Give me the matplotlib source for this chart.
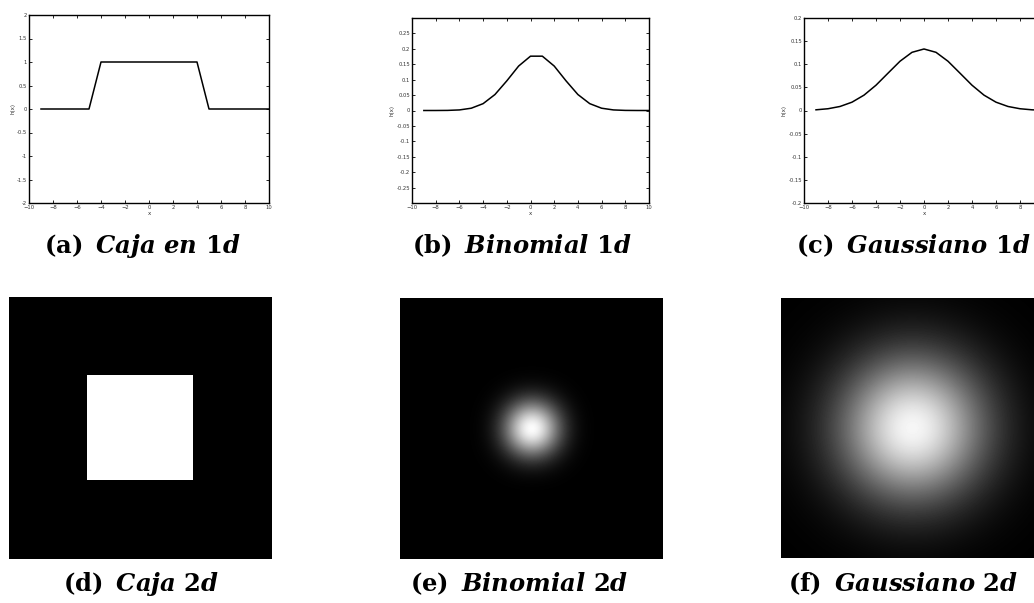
import matplotlib
matplotlib.use('Agg')
import matplotlib.pyplot as plt
import numpy as np

# sample positions of the 1d kernels
x_vals = [-9, -8, -7, -6, -5, -4, -3, -2, -1, 0, 1, 2, 3, 4, 5, 6, 7, 8, 9, 10]

# (a) box kernel
box_1d = [0, 0, 0, 0, 0, 1, 1, 1, 1, 1, 1, 1, 1, 1, 0, 0, 0, 0, 0, 0]

# (b) binomial kernel
binom_1d = [0.000002, 0.000036, 0.00033, 0.00185, 0.0074, 0.0222, 0.0518, 0.0961, 0.1442, 0.1762,
            0.1762, 0.1442, 0.0961, 0.0518, 0.0222, 0.0074, 0.00185, 0.00033, 0.000036, 0.000002]

# (c) gaussian kernel
gauss_1d = [0.0015, 0.0038, 0.0087, 0.0180, 0.0332, 0.0547, 0.0807, 0.1065, 0.1258, 0.1330,
            0.1258, 0.1065, 0.0807, 0.0547, 0.0332, 0.0180, 0.0087, 0.0038, 0.0015, 0.0005]

captions_top = ['(a)', '(b)', '(c)']
names_top = ['Caja en 1d', 'Binomial 1d', 'Gaussiano 1d']
captions_bot = ['(d)', '(e)', '(f)']
names_bot = ['Caja 2d', 'Binomial 2d', 'Gaussiano 2d']

plt.rcParams['mathtext.fontset'] = 'custom'
plt.rcParams['mathtext.bf'] = 'DejaVu Serif:bold'
plt.rcParams['mathtext.it'] = 'DejaVu Serif:italic:bold'
plt.rcParams['mathtext.rm'] = 'DejaVu Serif:bold'

W, H = 1034, 603
fig = plt.figure(figsize=(W / 100, H / 100), dpi=100)


def px_axes(x0, y0, x1, y1):
    # axes from pixel box (top-left origin)
    return fig.add_axes([x0 / W, 1 - y1 / H, (x1 - x0) / W, (y1 - y0) / H])


# ---- top row: 1d line plots ----
top_boxes = [(29, 15, 269, 203), (412, 18, 649, 203), (804, 18, 1044, 203)]
series = [box_1d, binom_1d, gauss_1d]
ylims = [(-2, 2), (-0.3, 0.3), (-0.2, 0.2)]
yticks = [np.arange(-2, 2.01, 0.5), np.arange(-0.25, 0.26, 0.05), np.arange(-0.2, 0.201, 0.05)]

for box, y, yl, yt in zip(top_boxes, series, ylims, yticks):
    ax = px_axes(*box)
    ax.plot(x_vals, y, color='black', lw=1.1)
    ax.set_xlim(-10, 10)
    ax.set_ylim(*yl)
    ax.set_xticks(np.arange(-10, 11, 2))
    ax.set_yticks(yt)
    ax.set_yticklabels(['%g' % round(v, 2) if abs(v) > 1e-9 else '0' for v in yt])
    ax.tick_params(direction='in', length=2, width=0.6, labelsize=3.8, pad=1.5,
                   top=True, right=True, labelcolor='#333333')
    for s in ax.spines.values():
        s.set_linewidth(1.0)
    ax.set_xlabel('x', fontsize=4, labelpad=0.5, color='#333333')
    ax.set_ylabel('h(x)', fontsize=4, labelpad=1, color='#333333')

# ---- bottom row: 2d images ----
bot_boxes = [(9, 297, 272, 559), (400, 298, 663, 559), (781, 298, 1044, 558)]
box_2d = np.outer(box_1d, box_1d)
binom_2d = np.outer(binom_1d, binom_1d)
gauss_2d = np.outer(gauss_1d, gauss_1d)
images = [box_2d, binom_2d, gauss_2d]
interps = ['nearest', 'bicubic', 'bicubic']
# visible half-width of each image in kernel units, and its centre
half_spans = [11.25, 15.5, 7.9]
centres = [0.0, 0.5, 0.0]

for box, img, interp, hs, c in zip(bot_boxes, images, interps, half_spans, centres):
    ax = px_axes(*box)
    ax.set_facecolor('black')
    ax.imshow(img / img.max(), cmap='gray', vmin=0, vmax=1, interpolation=interp,
              extent=[-9.5, 10.5, 10.5, -9.5], aspect='auto')
    ax.set_xlim(c - hs, c + hs)
    ax.set_ylim(c + hs, c - hs)
    ax.set_xticks([])
    ax.set_yticks([])
    for s in ax.spines.values():
        s.set_visible(False)

# ---- captions ----
top_centres = [142, 522, 913]
bot_centres = [141, 519, 903]


def caption(cx, cy, lab, name):
    fig.text(cx / W, 1 - cy / H, r'$\mathbf{%s}\ \,\mathit{%s}$' % (lab, name.replace(' ', r'\ ')),
             ha='center', va='center', fontsize=17.5)


for cx, lab, name in zip(top_centres, captions_top, names_top):
    caption(cx, 246, lab, name)
for cx, lab, name in zip(bot_centres, captions_bot, names_bot):
    caption(cx, 584, lab, name)

fig.savefig('out.png', dpi=100)
